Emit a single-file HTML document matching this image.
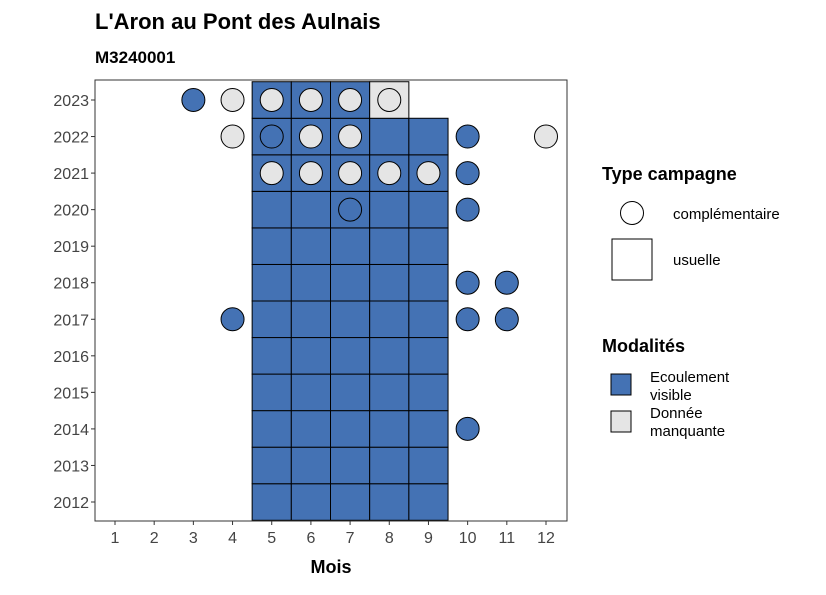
<!DOCTYPE html>
<html><head><meta charset="utf-8"><style>
body{margin:0;background:#fff;}
svg{font-family:"Liberation Sans",Arial,sans-serif;}
</style></head><body>
<svg id="chart" width="826" height="590" xmlns="http://www.w3.org/2000/svg">
<text x="95" y="29" font-size="22" font-weight="bold">L'Aron au Pont des Aulnais</text>
<text x="95" y="63" font-size="17" font-weight="bold">M3240001</text>
<g id="plot"></g>
<text x="331" y="573" font-size="18" font-weight="bold" text-anchor="middle">Mois</text>
<g>
<text x="602" y="180" font-size="18" font-weight="bold">Type campagne</text>
<circle cx="632" cy="213" r="11.5" fill="#fff" stroke="#000" stroke-width="1"/>
<text x="673" y="219" font-size="15">complémentaire</text>
<rect x="612" y="239" width="40" height="41" fill="#fff" stroke="#000"/>
<text x="673" y="265" font-size="15">usuelle</text>
</g>
<g>
<text x="602" y="352" font-size="18" font-weight="bold">Modalités</text>
<rect x="611" y="374" width="20" height="21" fill="#4472B4" stroke="#000"/>
<text x="650" y="382" font-size="15"><tspan x="650">Ecoulement</tspan><tspan x="650" dy="18">visible</tspan></text>
<rect x="611" y="411" width="20" height="21" fill="#E5E5E5" stroke="#000"/>
<text x="650" y="418" font-size="15"><tspan x="650">Donnée</tspan><tspan x="650" dy="18">manquante</tspan></text>
</g>
</svg>
<script>
const months=[1,2,3,4,5,6,7,8,9,10,11,12];
const years=[2012,2013,2014,2015,2016,2017,2018,2019,2020,2021,2022,2023];
// tiles (usuelle): 'E' = ecoulement visible, 'M' = donnee manquante
const tileMonths=[5,6,7,8,9,5,6,7,8,9,5,6,7,8,9,5,6,7,8,9,5,6,7,8,9,5,6,7,8,9,5,6,7,8,9,5,6,7,8,9,5,6,7,8,9,5,6,7,8,9,5,6,7,8,9,5,6,7,8];
const tileYears=[2012,2012,2012,2012,2012,2013,2013,2013,2013,2013,2014,2014,2014,2014,2014,2015,2015,2015,2015,2015,2016,2016,2016,2016,2016,2017,2017,2017,2017,2017,2018,2018,2018,2018,2018,2019,2019,2019,2019,2019,2020,2020,2020,2020,2020,2021,2021,2021,2021,2021,2022,2022,2022,2022,2022,2023,2023,2023,2023];
const tileMods=['E','E','E','E','E','E','E','E','E','E','E','E','E','E','E','E','E','E','E','E','E','E','E','E','E','E','E','E','E','E','E','E','E','E','E','E','E','E','E','E','E','E','E','E','E','E','E','E','E','E','E','E','E','E','E','E','E','E','M'];
// circles (complementaire)
const circMonths=[3,4,5,6,7,8,4,5,6,7,10,12,5,6,7,8,9,10,7,10,10,11,4,10,11,10];
const circYears=[2023,2023,2023,2023,2023,2023,2022,2022,2022,2022,2022,2022,2021,2021,2021,2021,2021,2021,2020,2020,2018,2018,2017,2017,2017,2014];
const circMods=['E','M','M','M','M','M','M','E','M','M','E','M','M','M','M','M','M','E','E','E','E','E','E','E','E','E'];

const NS='http://www.w3.org/2000/svg';
const g=document.getElementById('plot');
const L=95,R=567,T=80,B=521;
const xS=m=>115+(m-1)*(546-115)/11;
const yS=y=>502-(y-2012)*(502-100)/11;
const dx=(546-115)/11, dy=(502-100)/11;
const col=m=>m==='E'?'#4472B4':'#E5E5E5';
function mk(t,a){const e=document.createElementNS(NS,t);for(const k in a)e.setAttribute(k,a[k]);g.appendChild(e);return e;}
let e=mk('rect',{x:L,y:T,width:R-L,height:B-T,fill:'#fff'});


tileMonths.forEach((m,i)=>{
 const r=mk('rect',{x:xS(m)-dx/2,y:yS(tileYears[i])-dy/2,width:dx,height:dy,fill:col(tileMods[i]),stroke:'#000','stroke-width':1});
 
 
});
circMonths.forEach((m,i)=>{
 const c=mk('circle',{cx:xS(m),cy:yS(circYears[i]),r:11.5,fill:col(circMods[i]),stroke:'#000','stroke-width':1});
 
 
});
e=mk('rect',{x:L,y:T,width:R-L,height:B-T,fill:'none',stroke:'#333','stroke-width':1});


months.forEach(m=>{
 const t=mk('line',{x1:xS(m),x2:xS(m),y1:B,y2:B+4,stroke:'#333'});
 
 
 const l=mk('text',{x:xS(m),y:B+22,'font-size':16,'text-anchor':'middle',fill:'#444'});
 l.textContent=m;
 
 
});
years.forEach(y=>{
 const t=mk('line',{x1:L-4,x2:L,y1:yS(y),y2:yS(y),stroke:'#333'});
 
 
 const l=mk('text',{x:L-6,y:yS(y)+6,'font-size':16,'text-anchor':'end',fill:'#444'});
 l.textContent=y;
 
 
});
</script>
</body></html>
